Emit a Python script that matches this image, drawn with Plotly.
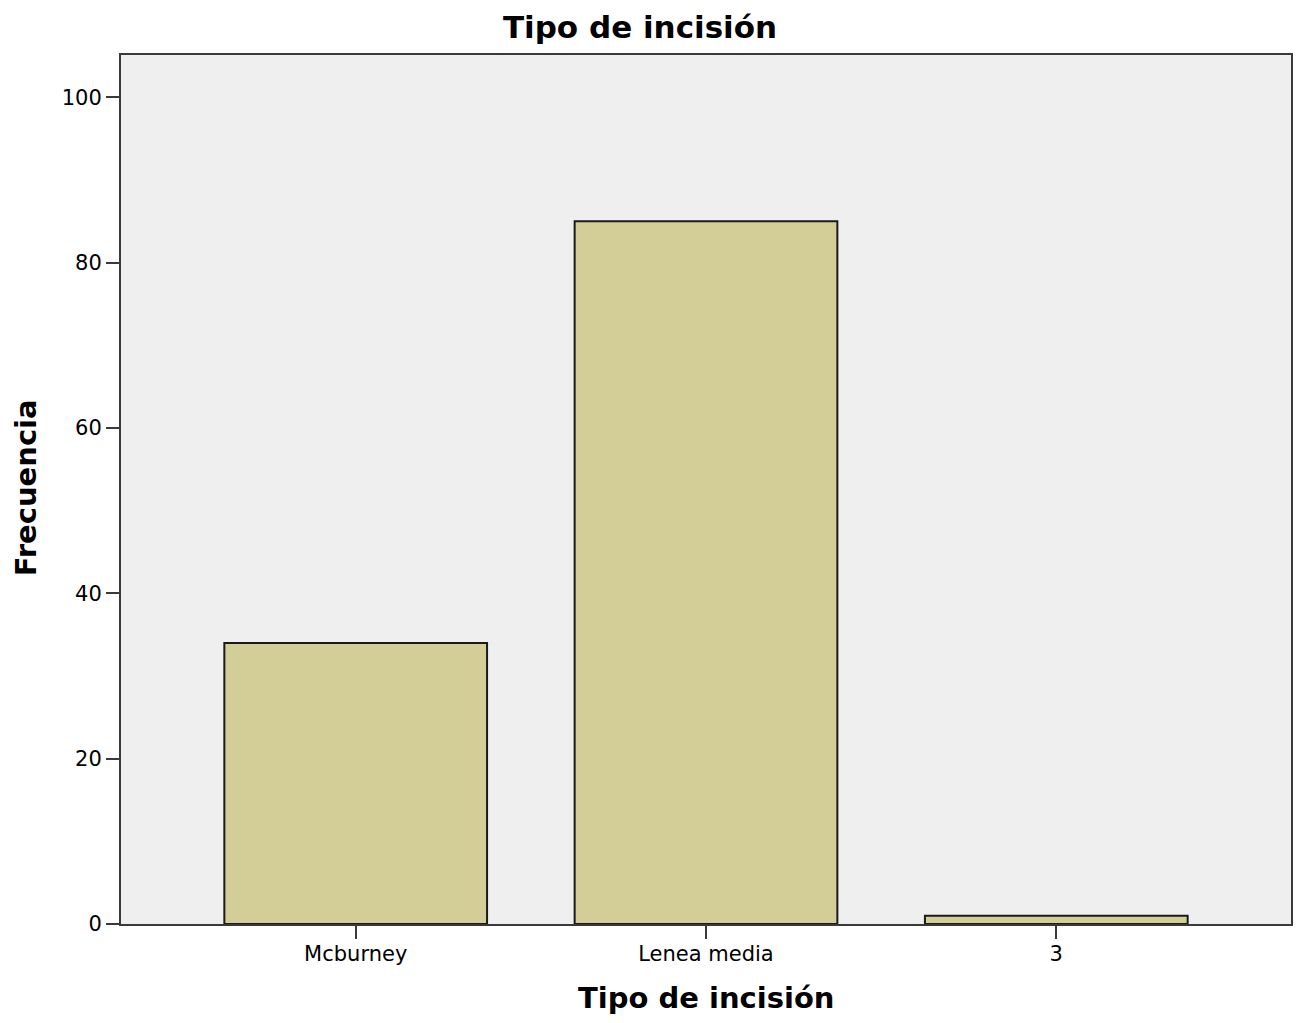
import plotly.graph_objects as go

categories = ["Mcburney", "Lenea media", "3"]
frequencies = [34, 85, 1]
y_tick_values = [0, 20, 40, 60, 80, 100]
title_text = "Tipo de incisión"
x_title = "Tipo de incisión"
y_title = "Frecuencia"

FONT = "DejaVu Sans"

fig = go.Figure(
    go.Bar(
        x=categories,
        y=frequencies,
        width=0.75,
        marker=dict(color="#D3CE97", line=dict(color="#1a1a1a", width=2)),
    )
)

fig.update_layout(
    width=1303,
    height=1023,
    margin=dict(l=121, r=10, t=55, b=99),
    paper_bgcolor="white",
    plot_bgcolor="#EFEFEF",
    showlegend=False,
    font=dict(family=FONT, color="black", size=21),
    title=dict(
        text="<b>" + title_text + "</b>",
        x=640 / 1303,
        xref="container",
        xanchor="center",
        y=1 - 27 / 1023,
        yref="container",
        yanchor="middle",
        font=dict(family=FONT, size=31, color="black"),
    ),
    annotations=[
        dict(
            text="<b>" + x_title + "</b>",
            xref="paper", yref="paper",
            x=0.5, y=-(998 - 924) / (1023 - 55 - 99),
            xanchor="center", yanchor="middle",
            showarrow=False,
            font=dict(family=FONT, size=29, color="black"),
        ),
        dict(
            text="<b>" + y_title + "</b>",
            xref="paper", yref="paper",
            x=-(121 - 26) / (1303 - 121 - 10), y=(924 - 488) / (1023 - 55 - 99),
            xanchor="center", yanchor="middle",
            textangle=-90,
            showarrow=False,
            font=dict(family=FONT, size=29, color="black"),
        ),
    ],
)

fig.update_xaxes(
    type="category",
    range=[-0.67, 2.67],
    showline=True, linecolor="#3a3a3a", linewidth=2, mirror=True,
    ticks="outside", ticklen=13, tickwidth=2, tickcolor="#3a3a3a",
    ticklabelstandoff=-3,
    showgrid=False, zeroline=False,
    tickfont=dict(family=FONT, size=21, color="black"),
)
fig.update_yaxes(
    range=[0, 105.1],
    tickvals=y_tick_values,
    showline=True, linecolor="#3a3a3a", linewidth=2, mirror=True,
    ticks="outside", ticklen=13, tickwidth=2, tickcolor="#3a3a3a",
    showgrid=False, zeroline=False,
    tickfont=dict(family=FONT, size=21, color="black"),
)

fig.write_html(
    "out.html",
    config={"displayModeBar": False},
    post_script="document.body.style.margin='0';document.body.style.overflow='hidden';",
)
